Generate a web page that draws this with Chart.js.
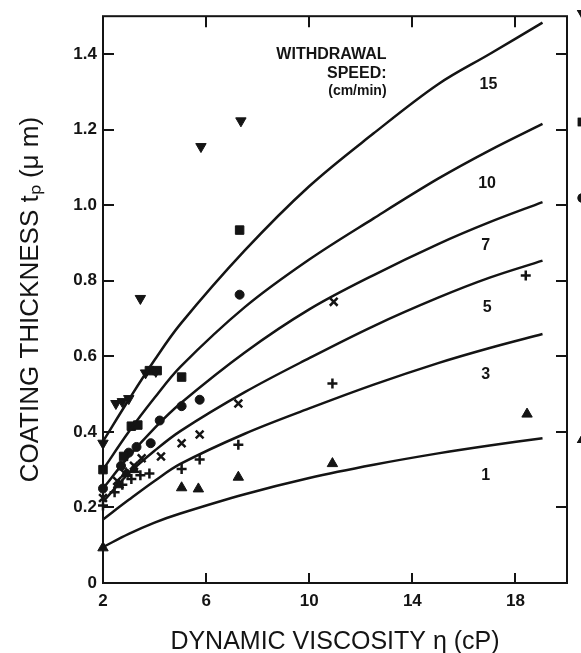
<!DOCTYPE html>
<html>
<head>
<meta charset="utf-8">
<script src="https://cdn.jsdelivr.net/npm/chart.js@4.4.1/dist/chart.umd.min.js"></script>
<style>
  html, body { margin: 0; padding: 0; background: #fff; }
  #wrap { width: 581px; height: 653px; }
</style>
</head>
<body>
<div id="wrap"><canvas id="chart" width="581" height="653"></canvas></div>
<script>
// viscosity (cP) where the fitted curves were read
const etaGrid = [2, 3, 4, 5, 7.5, 10, 12.5, 15, 17, 19.05];

// fitted curves, coating thickness (um), one per withdrawal speed
const fit15 = [0.375, 0.485, 0.59, 0.685, 0.88, 1.05, 1.19, 1.32, 1.40, 1.483];
const fit10 = [0.30, 0.40, 0.49, 0.572, 0.73, 0.856, 0.965, 1.07, 1.145, 1.215];
const fit7  = [0.25, 0.335, 0.41, 0.475, 0.61, 0.724, 0.815, 0.897, 0.955, 1.008];
const fit5  = [0.215, 0.29, 0.35, 0.402, 0.505, 0.595, 0.68, 0.755, 0.808, 0.853];
const fit3  = [0.168, 0.22, 0.27, 0.315, 0.395, 0.462, 0.525, 0.582, 0.622, 0.659];
const fit1  = [0.095, 0.13, 0.16, 0.184, 0.235, 0.278, 0.313, 0.343, 0.364, 0.383];

// measured points [eta, thickness]
const pts15 = [[2.0, 0.37], [2.5, 0.475], [2.75, 0.48], [3.0, 0.488], [3.45, 0.753], [3.65, 0.556], [4.05, 0.56], [5.8, 1.155], [7.35, 1.223]];
const pts10 = [[2.0, 0.30], [2.8, 0.335], [3.1, 0.415], [3.35, 0.418], [3.8, 0.562], [4.1, 0.562], [5.05, 0.545], [7.3, 0.934]];
const pts7  = [[2.0, 0.25], [2.7, 0.31], [3.0, 0.345], [3.3, 0.36], [3.85, 0.37], [4.2, 0.43], [5.05, 0.468], [5.75, 0.485], [7.3, 0.763]];
const pts5  = [[2.0, 0.225], [2.55, 0.27], [2.85, 0.29], [3.2, 0.31], [3.5, 0.33], [4.25, 0.335], [5.05, 0.37], [5.75, 0.393], [7.25, 0.475], [10.95, 0.744]];
const pts3  = [[2.0, 0.205], [2.45, 0.24], [2.75, 0.26], [3.1, 0.275], [3.45, 0.285], [3.8, 0.29], [5.05, 0.302], [5.75, 0.327], [7.25, 0.366], [10.9, 0.528], [18.4, 0.814]];
const pts1  = [[2.0, 0.093], [2.6, 0.26], [2.9, 0.29], [3.2, 0.30], [5.05, 0.252], [5.7, 0.249], [7.25, 0.28], [10.9, 0.316], [18.45, 0.447]];

const speeds = ['15', '10', '7', '5', '3', '1'];
const speedLabelAt = [[16.95, 1.318], [16.9, 1.058], [16.85, 0.892], [16.9, 0.73], [16.85, 0.551], [16.85, 0.283]];
const header = ['WITHDRAWAL', 'SPEED:', '(cm/min)'];

const xTicks = [2, 6, 10, 14, 18];
const yTicks = [0, 0.2, 0.4, 0.6, 0.8, 1.0, 1.2, 1.4];

const INK = '#141414';
const FONT = '"Liberation Sans", Arial, Helvetica, sans-serif';

function curve(vals) {
  return vals.map((v, i) => ({ x: etaGrid[i], y: v }));
}
function points(arr) {
  return arr.map(p => ({ x: p[0], y: p[1] }));
}

const markerStyles = [
  { pointStyle: 'triangle', rotation: 180, pointRadius: 6, borderWidth: 1 },
  { pointStyle: 'rect', rotation: 0, pointRadius: 6, borderWidth: 1 },
  { pointStyle: 'circle', rotation: 0, pointRadius: 4.5, borderWidth: 1 },
  { pointStyle: 'crossRot', rotation: 0, pointRadius: 5.5, borderWidth: 2.5 },
  { pointStyle: 'cross', rotation: 0, pointRadius: 5, borderWidth: 2.5 },
  { pointStyle: 'triangle', rotation: 0, pointRadius: 6, borderWidth: 1 }
];

const fits = [fit15, fit10, fit7, fit5, fit3, fit1];
const measured = [pts15, pts10, pts7, pts5, pts3, pts1];

const datasets = [];
fits.forEach((f, i) => {
  datasets.push({
    label: 'fit ' + speeds[i],
    data: curve(f),
    showLine: true,
    borderColor: INK,
    borderWidth: 2.5,
    pointRadius: 0,
    tension: 0.35
  });
});
measured.forEach((m, i) => {
  const s = markerStyles[i];
  datasets.push({
    label: speeds[i] + ' cm/min',
    data: points(m),
    showLine: false,
    pointStyle: s.pointStyle,
    rotation: s.rotation,
    pointRadius: s.pointRadius,
    pointBorderWidth: s.borderWidth,
    backgroundColor: INK,
    borderColor: INK,
    clip: false
  });
});

const frame = {
  id: 'frame',
  afterDraw(chart) {
    const { ctx, chartArea: a, scales: { x, y } } = chart;
    ctx.save();
    ctx.strokeStyle = INK;
    ctx.lineWidth = 2;
    ctx.strokeRect(a.left, a.top, a.right - a.left, a.bottom - a.top);

    // inward tick marks on all four sides
    ctx.beginPath();
    yTicks.forEach(v => {
      if (v === 0) return;
      const py = Math.round(y.getPixelForValue(v));
      ctx.moveTo(a.left, py); ctx.lineTo(a.left + 11, py);
      ctx.moveTo(a.right, py); ctx.lineTo(a.right - 11, py);
    });
    xTicks.forEach(v => {
      if (v === 2) return;
      const px = Math.round(x.getPixelForValue(v));
      ctx.moveTo(px, a.bottom); ctx.lineTo(px, a.bottom - 10);
      ctx.moveTo(px, a.top); ctx.lineTo(px, a.top + 11);
    });
    ctx.stroke();

    ctx.fillStyle = INK;
    ctx.textBaseline = 'middle';

    // speed label on each curve
    ctx.font = 'bold 16px ' + FONT;
    ctx.textAlign = 'center';
    speeds.forEach((s, i) => {
      ctx.fillText(s, x.getPixelForValue(speedLabelAt[i][0]), y.getPixelForValue(speedLabelAt[i][1]));
    });

    // legend heading
    ctx.textAlign = 'right';
    const hx = x.getPixelForValue(13.0);
    ctx.font = 'bold 16px ' + FONT;
    ctx.fillText(header[0], hx, y.getPixelForValue(1.399));
    ctx.fillText(header[1], hx, y.getPixelForValue(1.349));
    ctx.font = 'bold 14px ' + FONT;
    ctx.fillText(header[2], hx, y.getPixelForValue(1.302));

    // legend symbols cut off by the right edge of the picture
    const stubY = [13, 122, 198, 258, 332, 440];
    markerStyles.forEach((s, i) => {
      ctx.lineWidth = s.borderWidth;
      Chart.helpers.drawPoint(ctx, {
        pointStyle: s.pointStyle,
        rotation: s.rotation,
        radius: s.pointRadius
      }, 582, stubY[i]);
      ctx.fill();
    });
    ctx.restore();
  }
};

new Chart(document.getElementById('chart'), {
  type: 'scatter',
  data: { datasets: datasets },
  options: {
    responsive: false,
    animation: false,
    devicePixelRatio: 1,
    layout: { padding: { top: 11, right: 14, bottom: 0, left: 0 } },
    plugins: {
      legend: { display: false },
      tooltip: { enabled: false }
    },
    scales: {
      x: {
        type: 'linear',
        min: 2,
        max: 20,
        afterBuildTicks: s => { s.ticks = xTicks.map(v => ({ value: v })); },
        afterFit: s => { s.height = 70; },
        grid: { display: false, drawTicks: false },
        border: { display: false },
        ticks: {
          color: INK,
          padding: 8,
          font: { family: FONT, size: 17, weight: 'bold' },
          callback: v => String(v)
        },
        title: {
          display: true,
          text: 'DYNAMIC VISCOSITY \u03b7 (cP)',
          color: INK,
          font: { family: FONT, size: 25, lineHeight: 1 },
          padding: { top: 0, bottom: -2 }
        }
      },
      y: {
        type: 'linear',
        min: 0,
        max: 1.5,
        afterBuildTicks: s => { s.ticks = yTicks.map(v => ({ value: v })); },
        afterFit: s => { s.width = 103; },
        grid: { display: false, drawTicks: false },
        border: { display: false },
        ticks: {
          color: INK,
          padding: 6,
          font: { family: FONT, size: 17, weight: 'bold' },
          callback: v => (v === 0 ? '0' : v.toFixed(1))
        },
        title: {
          display: true,
          text: 'COATING THICKNESS t\u209a (\u03bc m)',
          color: INK,
          font: { family: FONT, size: 26, lineHeight: 1.2 },
          padding: { top: 15, bottom: 0 }
        }
      }
    }
  },
  plugins: [frame]
});
</script>
</body>
</html>
